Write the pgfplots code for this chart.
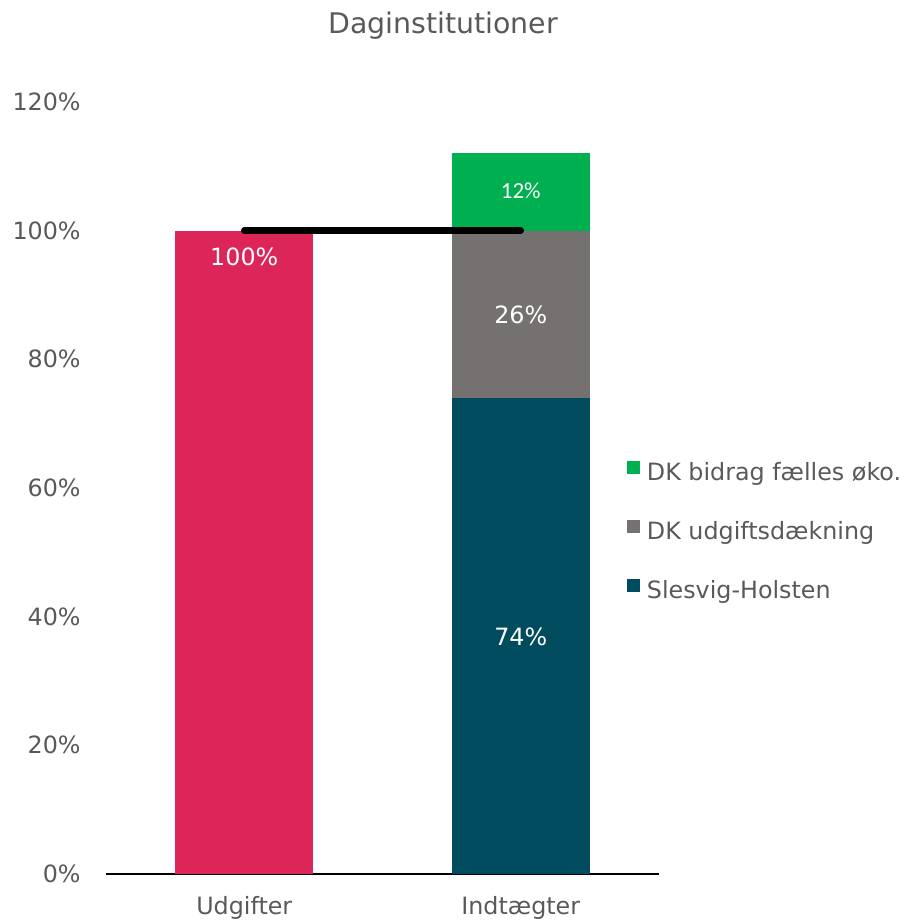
\documentclass[border=0pt]{standalone}
\usepackage{pgfplots}
\pgfplotsset{compat=1.18}
\usepackage{fontspec}
\setmainfont{DejaVu Sans}
\newfontfamily\calibri{Carlito}
\definecolor{pinkbar}{RGB}{220,38,89}
\definecolor{tealbar}{RGB}{0,75,94}
\definecolor{graybar}{RGB}{118,113,113}
\definecolor{greenbar}{RGB}{0,176,80}
\definecolor{txt}{RGB}{89,89,89}
\newcommand{\tfont}{\fontsize{11.9}{14}\selectfont}
\pgfplotsset{sq/.style={legend image code/.code={\fill[##1] (0pt,0.25pt) rectangle (6.5pt,6.75pt);}}}

\begin{document}
\begin{tikzpicture}
\begin{axis}[
 at={(53pt,23.5pt)}, anchor=south west,
 scale only axis, width=276.5pt, height=386pt,
 ybar stacked, bar width=0.5,
 xmin=-0.5, xmax=1.5, ymin=0, ymax=120,
 xtick={0,1}, xticklabels={Udgifter,Indtægter},
 ytick={0,20,...,120},
 yticklabel={\pgfmathprintnumber{\tick}\%},
 /pgf/number format/assume math mode=true,
 axis x line*=bottom, axis y line*=left,
 axis line style={-},
 y axis line style={draw=none},
 x axis line style={black, line width=0.75pt},
 major tick length=0pt,
 tick label style={font=\tfont, text=txt},
 yticklabel style={inner sep=0pt, xshift=-12.5pt},
 xticklabel style={inner sep=0pt, yshift=-11pt},
 legend style={draw=none, fill=none, at={(0.9421,0.535)}, anchor=north west,
   inner sep=0pt, outer sep=0pt, font=\tfont, text=txt, row sep=17.25pt,
   nodes={inner sep=0pt, text height=8.5pt, text depth=2.5pt},
   /tikz/every odd column/.append style={column sep=3.5pt}},
 legend cell align=left,
 reverse legend,
 clip=false,
]
\addplot[fill=pinkbar, draw=none, sq] coordinates {(0,100) (1,0)};
\addplot[fill=tealbar, draw=none, sq] coordinates {(0,0) (1,74)};
\addplot[fill=graybar, draw=none, sq] coordinates {(0,0) (1,26)};
\addplot[fill=greenbar, draw=none, sq] coordinates {(0,0) (1,12)};
\legend{,Slesvig-Holsten,DK udgiftsdækning,DK bidrag fælles øko.}
\end{axis}
\begin{axis}[
 at={(53pt,23.5pt)}, anchor=south west,
 scale only axis, width=276.5pt, height=386pt,
 xmin=-0.5, xmax=1.5, ymin=0, ymax=120,
 hide axis, clip=false,
]
\addplot[black, line width=3.25pt, line cap=round, no markers] coordinates {(0,100) (1,100)};
\node[text=white, font=\tfont, inner sep=0pt] at (axis cs:0,95.9) {100\%};
\node[text=white, font=\tfont, inner sep=0pt] at (axis cs:1,86.9) {26\%};
\node[text=white, font=\tfont, inner sep=0pt] at (axis cs:1,36.8) {74\%};
\node[text=white, font=\calibri\fontsize{11.5}{13}\selectfont, inner sep=0pt] at (axis cs:1,106.2) {12\%};
\end{axis}
\node[anchor=base, font=\fontsize{14.2}{17}\selectfont, text=txt] at (221.5pt,443.5pt) {Daginstitutioner};
\pgfresetboundingbox
\useasboundingbox (0pt,0pt) rectangle (453pt,460.5pt);
\end{tikzpicture}
\end{document}
